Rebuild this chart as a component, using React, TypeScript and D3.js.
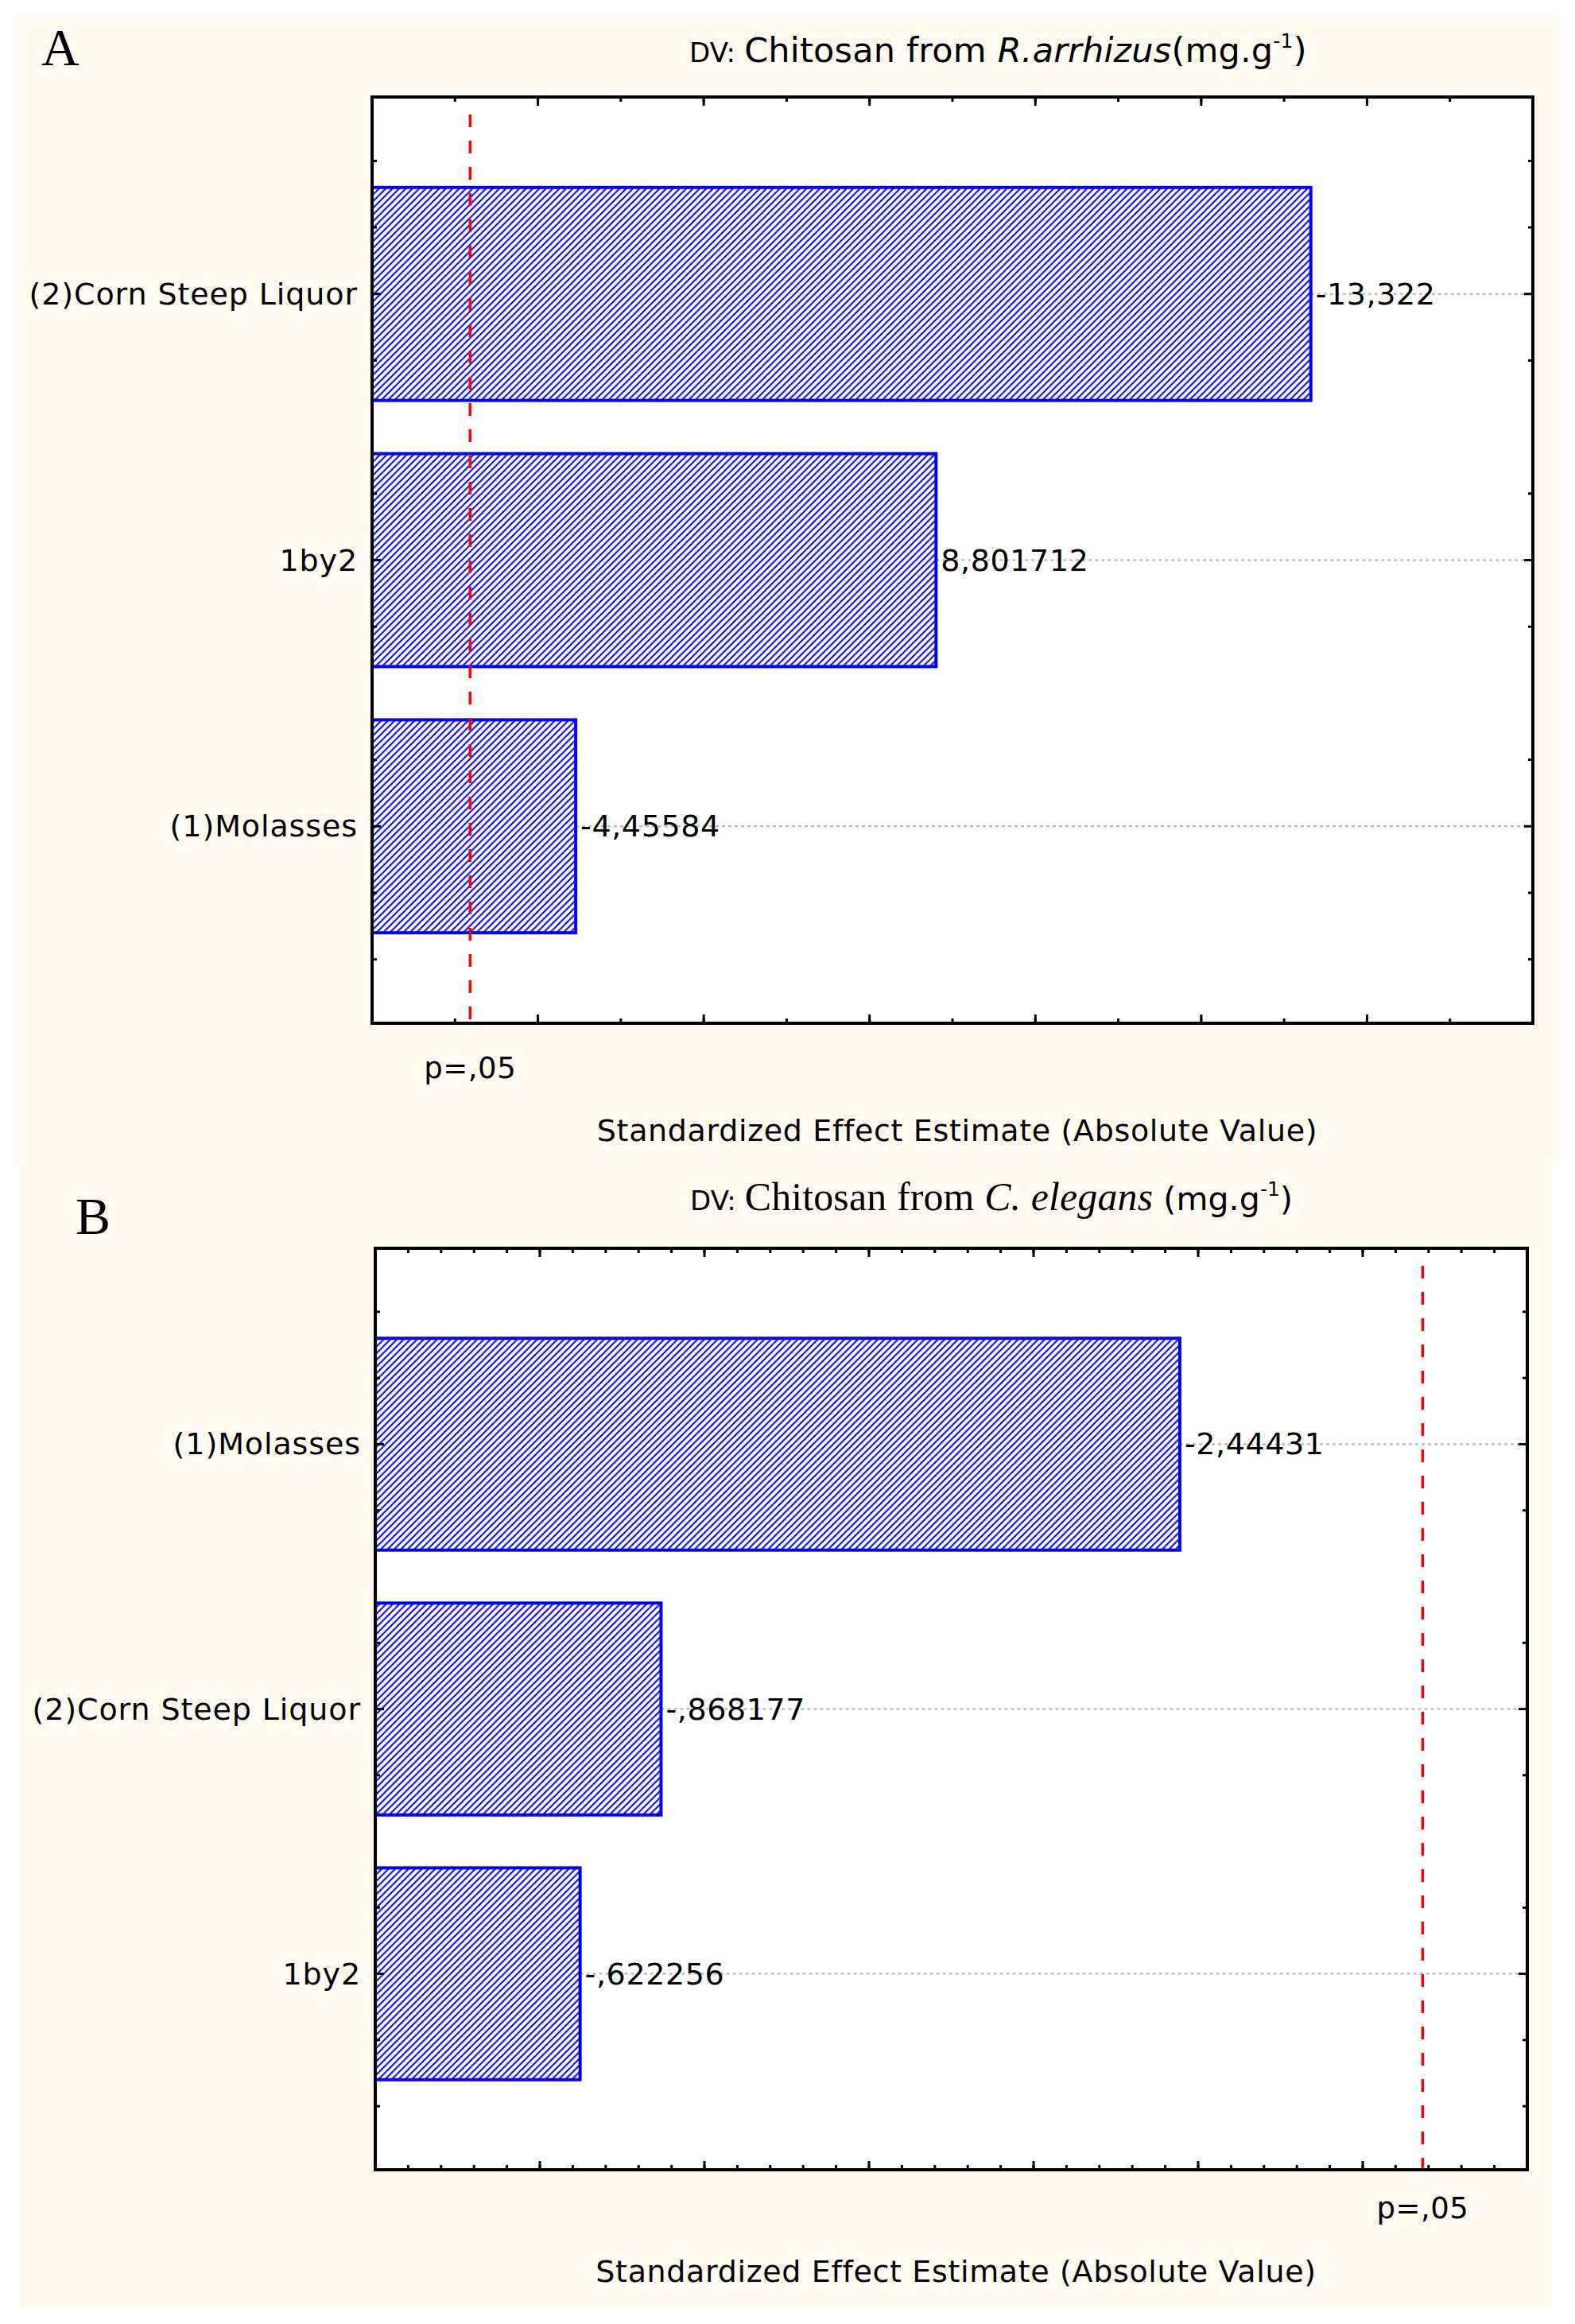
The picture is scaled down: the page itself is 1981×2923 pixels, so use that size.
import React from 'react';
import * as d3 from 'd3';

const W = 1981;
const H = 2923;

// Panel A: Chitosan from R. arrhizus
const categoriesA = ['(2)Corn Steep Liquor', '1by2', '(1)Molasses'];
const valuesA = [13.322, 8.801712, 4.45584];
const valueLabelsA = ['-13,322', '8,801712', '-4,45584'];

// Panel B: Chitosan from C. elegans
const categoriesB = ['(1)Molasses', '(2)Corn Steep Liquor', '1by2'];
const valuesB = [2.44431, 0.868177, 0.622256];
const valueLabelsB = ['-2,44431', '-,868177', '-,622256'];

const criticalT = 3.182; // t at p = .05
const pLabel = 'p=,05';
const xAxisTitle = 'Standardized Effect Estimate (Absolute Value)';

const yTicks = [0.5, 0.75, 1, 1.25, 1.75, 2, 2.25, 2.75, 3, 3.25, 3.5];
const yMajorTicks = [1, 2, 3];

const SANS = 'DejaVu Sans, Verdana, sans-serif';
const SERIF = 'Liberation Serif, Times New Roman, serif';
const BLUE = '#0000FF';

interface Frame {
  left: number;
  right: number;
  top: number;
  bottom: number;
}

interface PanelProps {
  id: string;
  bg: { x: number; y: number; w: number; h: number };
  frame: Frame;
  xDomain: [number, number];
  minorCount: number;
  majorCount: number;
  categories: string[];
  values: number[];
  valueLabels: string[];
  letter: string;
  letterX: number;
  letterY: number;
  title: React.ReactNode;
  pLabelY: number;
  axisTitleY: number;
}

const Panel = ({
  id,
  bg,
  frame,
  xDomain,
  minorCount,
  majorCount,
  categories,
  values,
  valueLabels,
  letter,
  letterX,
  letterY,
  title,
  pLabelY,
  axisTitleY,
}: PanelProps) => {
  const x = d3.scaleLinear().domain(xDomain).range([frame.left, frame.right]);
  const y = d3.scaleLinear().domain([0.26, 3.74]).range([frame.top, frame.bottom]);
  const eps = 1e-6;
  const inside = (t: number) => t > xDomain[0] + eps && t < xDomain[1] - eps;
  const minor = x.ticks(minorCount).filter(inside);
  const major = x.ticks(majorCount).filter(inside);
  const patternId = `hatch-${id}`;
  const critX = x(criticalT);

  return (
    <g>
      <defs>
        <pattern id={patternId} patternUnits="userSpaceOnUse" width={8.4} height={8.4}>
          <rect width={8.4} height={8.4} fill="#fff" />
          <path
            d="M-2,2 L2,-2 M0,8.4 L8.4,0 M6.4,10.4 L10.4,6.4"
            stroke={BLUE}
            strokeWidth={2.1}
          />
        </pattern>
      </defs>
      <rect x={bg.x} y={bg.y} width={bg.w} height={bg.h} fill="#FFFAEF" />
      <rect
        x={frame.left}
        y={frame.top}
        width={frame.right - frame.left}
        height={frame.bottom - frame.top}
        fill="#fff"
      />

      {/* dotted guide lines */}
      {values.map((v, i) => (
        <line
          key={`g${i}`}
          x1={x(v)}
          x2={frame.right}
          y1={y(i + 1)}
          y2={y(i + 1)}
          stroke="#BDBDBD"
          strokeWidth={2.5}
          strokeDasharray="4 4"
        />
      ))}

      {/* bars */}
      {values.map((v, i) => (
        <rect
          key={`b${i}`}
          x={x(xDomain[0])}
          y={y(i + 1 - 0.4)}
          width={x(v) - x(xDomain[0])}
          height={y(i + 1 + 0.4) - y(i + 1 - 0.4)}
          fill={`url(#${patternId})`}
          stroke={BLUE}
          strokeWidth={4}
        />
      ))}

      {/* x ticks, top and bottom, pointing inward */}
      {minor.map((t) => (
        <g key={`xm${t}`} stroke="#000" strokeWidth={3}>
          <line x1={x(t)} x2={x(t)} y1={frame.top} y2={frame.top + 6} />
          <line x1={x(t)} x2={x(t)} y1={frame.bottom} y2={frame.bottom - 6} />
        </g>
      ))}
      {major.map((t) => (
        <g key={`xM${t}`} stroke="#000" strokeWidth={3}>
          <line x1={x(t)} x2={x(t)} y1={frame.top} y2={frame.top + 11} />
          <line x1={x(t)} x2={x(t)} y1={frame.bottom} y2={frame.bottom - 11} />
        </g>
      ))}

      {/* y ticks, left and right */}
      {yTicks.map((t) => {
        const len = yMajorTicks.includes(t) ? 11 : 6;
        return (
          <g key={`y${t}`} stroke="#000" strokeWidth={3}>
            <line x1={frame.left} x2={frame.left + len} y1={y(t)} y2={y(t)} />
            <line x1={frame.right} x2={frame.right - len} y1={y(t)} y2={y(t)} />
          </g>
        );
      })}

      {/* critical value line */}
      <line
        x1={critX}
        x2={critX}
        y1={frame.top + 22}
        y2={frame.bottom}
        stroke="#FF0000"
        strokeWidth={3.5}
        strokeDasharray="16 17"
      />

      <rect
        x={frame.left}
        y={frame.top}
        width={frame.right - frame.left}
        height={frame.bottom - frame.top}
        fill="none"
        stroke="#000"
        strokeWidth={4}
      />

      {/* category labels */}
      {categories.map((c, i) => (
        <text
          key={`c${i}`}
          x={frame.left - 18}
          y={y(i + 1)}
          textAnchor="end"
          dominantBaseline="central"
          fontFamily={SANS}
          fontSize={38}
          letterSpacing={0.9}
        >
          {c}
        </text>
      ))}

      {/* value labels */}
      {values.map((v, i) => (
        <text
          key={`v${i}`}
          x={x(v) + 6}
          y={y(i + 1)}
          dominantBaseline="central"
          fontFamily={SANS}
          fontSize={38}
          letterSpacing={0.6}
        >
          {valueLabels[i]}
        </text>
      ))}

      <text
        x={critX}
        y={pLabelY}
        textAnchor="middle"
        dominantBaseline="central"
        fontFamily={SANS}
        fontSize={37}
        letterSpacing={0.5}
      >
        {pLabel}
      </text>

      <text
        x={(frame.left + frame.right) / 2 + 6}
        y={axisTitleY}
        textAnchor="middle"
        dominantBaseline="central"
        fontFamily={SANS}
        fontSize={38}
        letterSpacing={0.65}
      >
        {xAxisTitle}
      </text>

      <text x={letterX} y={letterY} fontFamily={SERIF} fontSize={66}>
        {letter}
      </text>

      {title}
    </g>
  );
};

export default function App() {
  const titleA = (
    <text x={867} y={78} fontFamily={SANS} fontSize={43} letterSpacing={0.2}>
      <tspan fontSize={34}>DV: </tspan>
      <tspan>Chitosan from </tspan>
      <tspan fontStyle="italic">R.arrhizus</tspan>
      <tspan>(mg.g</tspan>
      <tspan fontSize={25} dy={-18}>-1</tspan>
      <tspan dy={18}>)</tspan>
    </text>
  );

  const titleB = (
    <text x={868} y={1522} fontFamily={SANS} fontSize={41} letterSpacing={0.1}>
      <tspan fontSize={34}>DV: </tspan>
      <tspan fontFamily={SERIF} fontSize={50}>Chitosan from </tspan>
      <tspan fontFamily={SERIF} fontSize={50} fontStyle="italic">C. elegans</tspan>
      <tspan> (mg.g</tspan>
      <tspan fontSize={25} dy={-18}>-1</tspan>
      <tspan dy={18}>)</tspan>
    </text>
  );

  return (
    <svg
      width={W}
      height={H}
      viewBox={`0 0 ${W} ${H}`}
      style={{ position: 'absolute', left: 0, top: 0, background: '#fff' }}
    >
      <Panel
        id="A"
        bg={{ x: 19, y: 19, w: 1942, h: 1446 }}
        frame={{ left: 468, right: 1928, top: 122, bottom: 1287 }}
        xDomain={[2, 16]}
        minorCount={14}
        majorCount={7}
        categories={categoriesA}
        values={valuesA}
        valueLabels={valueLabelsA}
        letter="A"
        letterX={52}
        letterY={82}
        title={titleA}
        pLabelY={1343}
        axisTitleY={1422}
      />
      <Panel
        id="B"
        bg={{ x: 25, y: 1465, w: 1927, h: 1437 }}
        frame={{ left: 472, right: 1921, top: 1570, bottom: 2729 }}
        xDomain={[0, 3.5]}
        minorCount={35}
        majorCount={7}
        categories={categoriesB}
        values={valuesB}
        valueLabels={valueLabelsB}
        letter="B"
        letterX={95}
        letterY={1552}
        title={titleB}
        pLabelY={2777}
        axisTitleY={2857}
      />
    </svg>
  );
}
